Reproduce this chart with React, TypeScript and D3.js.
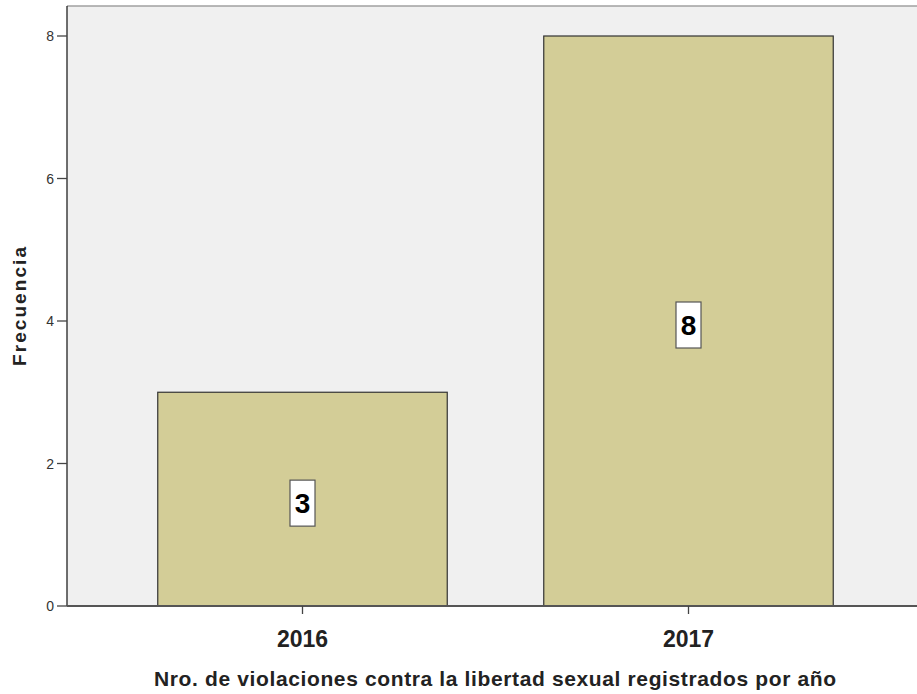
import React from "react";
import * as d3 from "d3";

const categories = ["2016", "2017"];
const values = [3, 8];
const yTicks = [0, 2, 4, 6, 8];
const xTitle = "Nro. de violaciones contra la libertad sexual registrados por año";
const yTitle = "Frecuencia";

export default function App() {
  const W = 917, H = 694;
  const left = 67, top = 6, bottom = 606, right = 917;
  const y = d3.scaleLinear().domain([0, 8]).range([bottom, 36]);
  const x = d3.scaleBand().domain(categories).range([109.5, 881.5]).paddingInner(0.25).paddingOuter(0.125);
  const font = "'Liberation Sans', Arial, sans-serif";
  return (
    <svg width={W} height={H} style={{ position: "absolute", left: 0, top: 0 }} fontFamily={font}>
      <rect x={0} y={0} width={W} height={H} fill="#fff" />
      <rect x={left} y={top} width={right - left} height={bottom - top} fill="#f0f0f0" />
      <line x1={left} x2={right} y1={top} y2={top} stroke="#a0a0a0" strokeWidth={1.5} />
      {categories.map((c, i) => (
        <rect key={c} x={x(c)} y={y(values[i])} width={x.bandwidth()} height={bottom - y(values[i])}
          fill="#d3cd97" stroke="#333" strokeWidth={1.2} />
      ))}
      {categories.map((c, i) => {
        const cx = (x(c) as number) + x.bandwidth() / 2;
        const cy = (y(values[i]) + bottom) / 2 + 4;
        return (
          <g key={"l" + c}>
            <rect x={cx - 12.5} y={cy - 23} width={25} height={46} fill="#fff" stroke="#555" strokeWidth={1.2} />
            <text x={cx} y={cy + 10} textAnchor="middle" fontSize={28} fontWeight="bold" fill="#000">{values[i]}</text>
          </g>
        );
      })}
      <line x1={left} x2={left} y1={top} y2={bottom} stroke="#222" strokeWidth={1.3} />
      <line x1={left} x2={right} y1={bottom} y2={bottom} stroke="#555" strokeWidth={2} />
      {yTicks.map(t => (
        <g key={t}>
          <line x1={57} x2={left} y1={y(t)} y2={y(t)} stroke="#444" strokeWidth={1.3} />
          <text x={54} y={y(t) + 5} textAnchor="end" fontSize={14} fill="#333">{t}</text>
        </g>
      ))}
      {categories.map(c => {
        const cx = (x(c) as number) + x.bandwidth() / 2;
        return (
          <g key={"t" + c}>
            <line x1={cx} x2={cx} y1={bottom} y2={bottom + 8} stroke="#444" strokeWidth={1.3} />
            <text x={cx} y={647} textAnchor="middle" fontSize={23} fontWeight="bold" fill="#222">{c}</text>
          </g>
        );
      })}
      <text x={495} y={686} textAnchor="middle" fontSize={21} fontWeight="bold" fill="#222"
        textLength={682} lengthAdjust="spacing">{xTitle}</text>
      <text transform="translate(26,306.5) rotate(-90)" textAnchor="middle" fontSize={19} fontWeight="bold" fill="#222"
        textLength={119} lengthAdjust="spacing">{yTitle}</text>
    </svg>
  );
}
